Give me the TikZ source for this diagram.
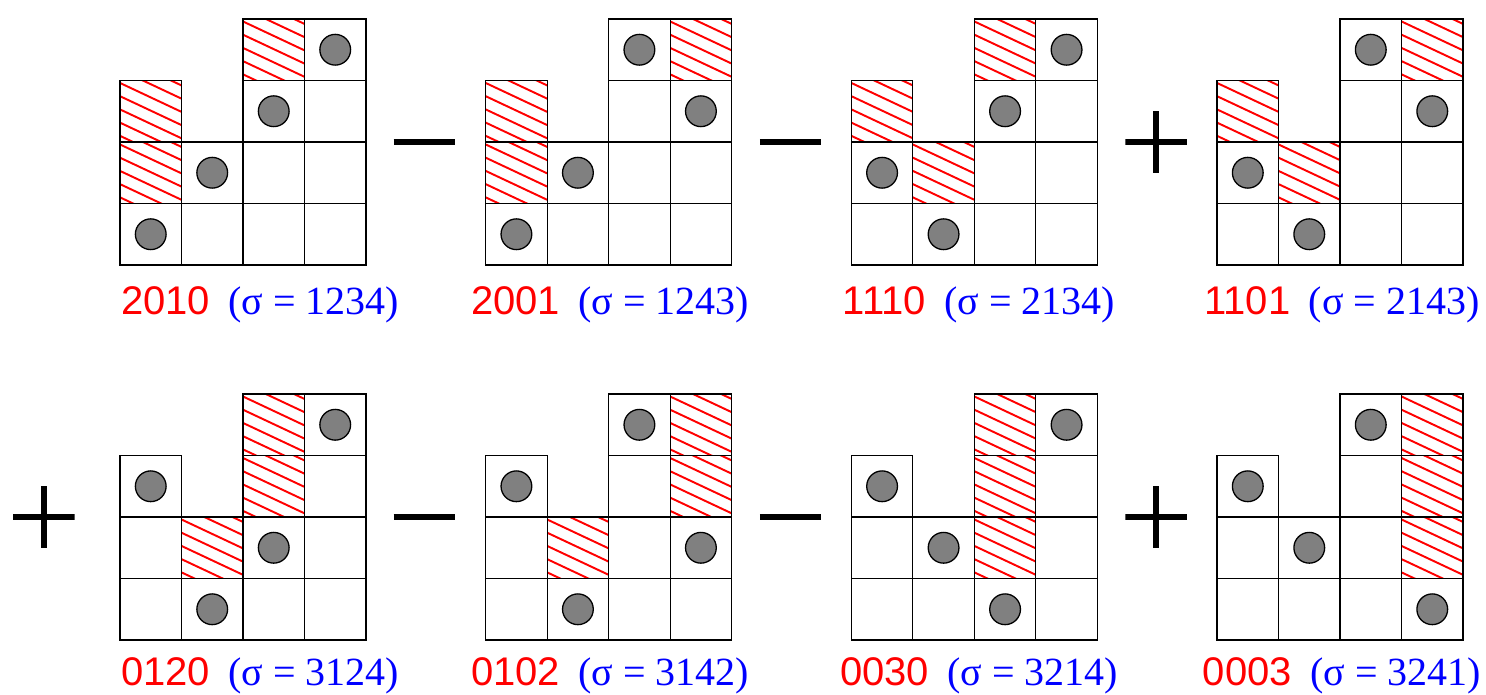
\documentclass[tikz,border=0pt]{standalone}
\usepackage{fontspec}
\setmainfont{Liberation Serif}
\newfontfamily\numfont{Liberation Sans}
\usetikzlibrary{positioning}
\definecolor{ballgray}{gray}{0.5}

\begin{document}
\begin{tikzpicture}[x=1cm,y=1cm,
  box/.style={draw=black,line width=0.6pt},
  hatchline/.style={draw=red,line width=0.9pt},
  ball/.style={circle,draw=black,line width=0.6pt,fill=ballgray,minimum size=0.5cm,inner sep=0pt},
  lab/.style={anchor=base,inner sep=0pt,font=\fontsize{18.5}{22}\selectfont},
  opsign/.style={minimum size=1cm,inner sep=0pt},
  opminus/.style={opsign,path picture={\draw[line width=2.8pt] (path picture bounding box.west) -- (path picture bounding box.east);}},
  opplus/.style={opsign,path picture={\draw[line width=2.8pt] (path picture bounding box.west) -- (path picture bounding box.east);
    \draw[line width=2.8pt] (path picture bounding box.north) -- (path picture bounding box.south);}}]
  \useasboundingbox (0,0) rectangle (24.163,11.285);

  % origin x / origin y / sigma / code / label centre / label drop
  \foreach \ox/\oy/\sig/\code/\lx/\ly [count=\d] in {
    1.951/6.976/1234/2010/4.228/0.813, 7.897/6.976/1243/2001/9.919/0.813,
    13.843/6.976/2134/1110/15.919/0.813, 19.789/6.976/2143/1101/21.821/0.813,
    1.951/0.878/3124/0120/4.228/0.74, 7.897/0.878/3142/0102/9.919/0.74,
    13.843/0.878/3214/0030/15.919/0.74, 19.789/0.878/3241/0003/21.821/0.74}
  {
    \foreach \j in {1,...,4} {
      \pgfmathtruncatemacro\s{mod(floor(\sig/10^(4-\j)),10)}
      \pgfmathtruncatemacro\h{{3,2,4,4}[\j-1]}
      \foreach \r in {1,...,\h} {
        \ifnum\r>\s
          \begin{scope}
            \clip (\ox+\j-1,\oy+\r-1) rectangle ++(1,1);
            \foreach \k in {0,...,7}
              \draw[hatchline] (\ox+\j-1,\oy+\r-0.9+0.215*\k) -- ++(1,-0.47);
          \end{scope}
        \fi
        \draw[box] (\ox+\j-1,\oy+\r-1) rectangle ++(1,1);
      }
      \node[ball] (b\d-\j) at (\ox+\j-0.5,\oy+\s-0.5) {};
    }
    \node[lab] (l\d) at (\lx,\oy-\ly)
      {{\numfont\color{red}\code}\hspace{8.5pt}\textcolor{blue}{(σ = \sig)}};
  }

  % signs
  \node[opminus] (m1) at (6.902,8.976) {};
  \node[opminus] (m2) at (12.854,8.976) {};
  \node[opplus] (p1) at (18.797,8.976) {};
  \node[opplus] (p2) at (0.715,2.878) {};
  \node[opminus] (m3) at (6.902,2.878) {};
  \node[opminus] (m4) at (12.854,2.878) {};
  \node[opplus] (p3) at (18.797,2.878) {};
\end{tikzpicture}
\end{document}
